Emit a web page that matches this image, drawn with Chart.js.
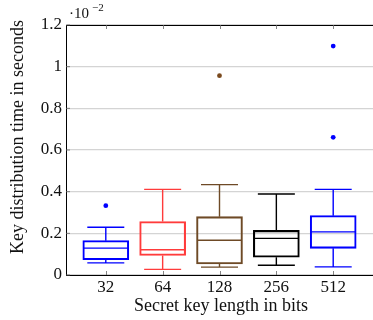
<!DOCTYPE html>
<html>
<head>
<meta charset="utf-8">
<script src="https://cdn.jsdelivr.net/npm/chart.js@4/dist/chart.umd.min.js"></script>
<style>
  html, body { margin: 0; padding: 0; overflow: hidden; background: #fff; }
  canvas { display: block; }
</style>
</head>
<body>
<canvas id="myChart" width="377" height="320"></canvas>
<script>
'use strict';

// values in units of 10^-2 seconds
const keyLengths = ['32', '64', '128', '256', '512'];
const lowerWhisker = [0.058, 0.027, 0.038, 0.047, 0.039];
const q1 = [0.073, 0.094, 0.053, 0.085, 0.128];
const median = [0.129, 0.121, 0.167, 0.176, 0.207];
const q3 = [0.165, 0.257, 0.280, 0.214, 0.285];
const upperWhisker = [0.229, 0.411, 0.434, 0.389, 0.411];
const outliers = [[0.333], [], [0.957], [], [1.099, 0.661]];
const yTicks = [0, 0.2, 0.4, 0.6, 0.8, 1, 1.2];

const boxColors = ['#0000ff', '#ff3b3b', '#6e4a26', '#000000', '#0000ff'];
const dotColors = ['#0000ff', '#ff0000', '#7a4a1e', '#000000', '#0000ff'];

const FONT = 'Liberation Serif, Times New Roman, serif';

let outlierPoints = [];
let outlierColors = [];
outliers.forEach(function(list, i){
    list.forEach(function(v){
        outlierPoints.push({x: i + 1, y: v});
        outlierColors.push(dotColors[i]);
    });
});

const boxPlugin = {
    id: 'boxExtras',
    afterDatasetsDraw(chart) {
        const ctx = chart.ctx;
        const xs = chart.scales.x;
        const ys = chart.scales.y;
        const area = chart.chartArea;
        ctx.save();

        // whiskers and medians
        keyLengths.forEach(function(k, i){
            const cx = xs.getPixelForValue(i + 1);
            const capHalf = 18.5;
            const boxHalf = 22.5;
            ctx.strokeStyle = boxColors[i];
            ctx.lineWidth = 1.4;
            ctx.beginPath();
            ctx.moveTo(cx, ys.getPixelForValue(q3[i]));
            ctx.lineTo(cx, ys.getPixelForValue(upperWhisker[i]));
            ctx.moveTo(cx, ys.getPixelForValue(q1[i]));
            ctx.lineTo(cx, ys.getPixelForValue(lowerWhisker[i]));
            ctx.moveTo(cx - capHalf, ys.getPixelForValue(upperWhisker[i]));
            ctx.lineTo(cx + capHalf, ys.getPixelForValue(upperWhisker[i]));
            ctx.moveTo(cx - capHalf, ys.getPixelForValue(lowerWhisker[i]));
            ctx.lineTo(cx + capHalf, ys.getPixelForValue(lowerWhisker[i]));
            ctx.moveTo(cx - boxHalf, ys.getPixelForValue(median[i]));
            ctx.lineTo(cx + boxHalf, ys.getPixelForValue(median[i]));
            ctx.stroke();
        });

        // top frame line
        ctx.strokeStyle = '#000';
        ctx.lineWidth = 1;
        ctx.beginPath();
        ctx.moveTo(area.left, area.top + 0.5);
        ctx.lineTo(area.right, area.top + 0.5);
        ctx.stroke();

        // inward tick marks
        ctx.strokeStyle = '#666';
        ctx.lineWidth = 0.8;
        ctx.beginPath();
        keyLengths.forEach(function(k, i){
            const px = Math.round(xs.getPixelForValue(i + 1)) + 0.5;
            ctx.moveTo(px, area.bottom);
            ctx.lineTo(px, area.bottom - 4);
            ctx.moveTo(px, area.top);
            ctx.lineTo(px, area.top + 4);
        });
        yTicks.forEach(function(v){
            const py = ys.getPixelForValue(v);
            ctx.moveTo(area.left, py);
            ctx.lineTo(area.left + 4, py);
        });
        ctx.stroke();

        // exponent label
        ctx.fillStyle = '#111';
        ctx.textBaseline = 'alphabetic';
        ctx.textAlign = 'left';
        ctx.font = '15px ' + FONT;
        ctx.fillText('\u00b710', 69, 18);
        ctx.font = '11px ' + FONT;
        ctx.fillText('\u22122', 92, 11);

        // axis titles
        ctx.font = '18px ' + FONT;
        ctx.textAlign = 'center';
        ctx.textBaseline = 'middle';
        ctx.fillText('Secret key length in bits', 221, 306);
        ctx.translate(18, 137);
        ctx.rotate(-Math.PI / 2);
        ctx.fillText('Key distribution time in seconds', 0, 0);
        ctx.restore();
    }
};

const chart = document.getElementById('myChart');
const myChart = new Chart(chart, {
    type: 'bar',
    data: {
        datasets: [{
            label: 'boxes',
            data: keyLengths.map(function(k, i){ return {x: i + 1, y: [q1[i], q3[i]]}; }),
            backgroundColor: 'rgba(0,0,0,0)',
            borderColor: boxColors,
            borderWidth: 1.4,
            borderSkipped: false,
            barThickness: 46,
        }, {
            type: 'scatter',
            label: 'outliers',
            data: outlierPoints,
            pointBackgroundColor: outlierColors,
            pointBorderColor: outlierColors,
            pointRadius: 2.4,
            pointBorderWidth: 0,
        }],
    },
    options: {
        responsive: false,
        animation: false,
        devicePixelRatio: 1,
        layout: { padding: { top: 25, left: 0, right: 0, bottom: 0 } },
        plugins: {
            legend: { display: false },
            tooltip: { enabled: false },
        },
        scales: {
            x: {
                type: 'linear',
                offset: false,
                min: 0.3,
                max: 5.7,
                afterBuildTicks: function(s){ s.ticks = keyLengths.map(function(k, i){ return {value: i + 1}; }); },
                afterFit: function(s){ s.height = 45; },
                grid: { display: false, drawTicks: false },
                border: { display: true, color: '#000', width: 1 },
                ticks: {
                    padding: 2,
                    autoSkip: false,
                    maxRotation: 0,
                    color: '#111',
                    font: { family: FONT, size: 17 },
                    callback: function(v){ return keyLengths[v - 1]; },
                },
            },
            y: {
                min: 0,
                max: 1.2,
                afterBuildTicks: function(s){ s.ticks = yTicks.map(function(v){ return {value: v}; }); },
                afterFit: function(s){ s.width = 66; },
                grid: { color: '#d4d4d4', lineWidth: 1.3, drawTicks: false },
                border: { display: true, color: '#000', width: 1 },
                ticks: {
                    padding: 4,
                    color: '#111',
                    font: { family: FONT, size: 17 },
                    callback: function(v){ return String(v); },
                },
            },
        },
    },
    plugins: [boxPlugin],
});
</script>
</body>
</html>
